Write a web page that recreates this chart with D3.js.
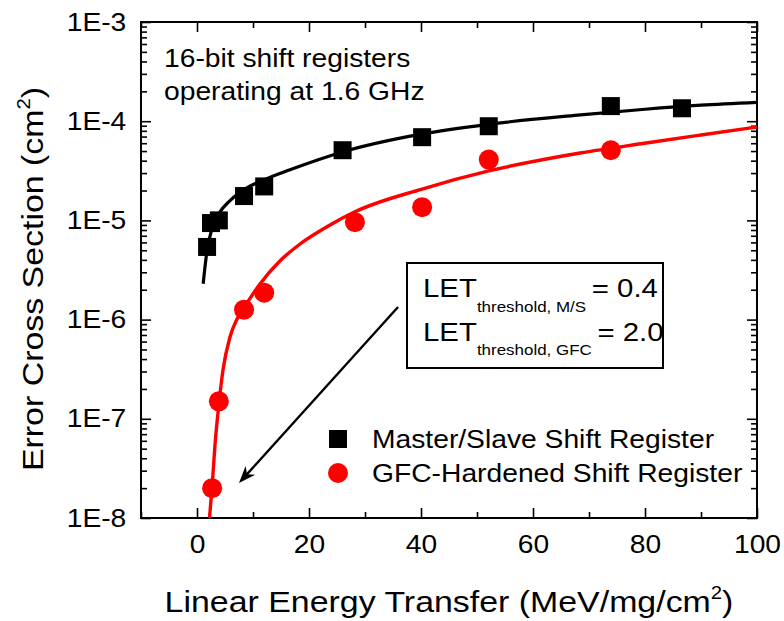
<!DOCTYPE html>
<html>
<head>
<meta charset="utf-8">
<script src="https://cdn.jsdelivr.net/npm/d3@7"></script>
<style>
body { margin: 0; background: #fff; }
text { font-family: Arial, "Liberation Sans", sans-serif; fill: #000; }
</style>
</head>
<body>
<div id="chart"></div>
<script>
// measured points, LET (MeV/mg/cm2) vs cross section (cm2)
let msLet = [1.8, 2.5, 3.9, 8.4, 12.0, 26.0, 40.2, 52.1, 73.9, 86.6];
let msSigma = [5.4e-6, 9.4e-6, 1.0e-5, 1.76e-5, 2.2e-5, 5.1e-5, 6.9e-5, 8.9e-5, 1.42e-4, 1.35e-4];

let gfcLet = [2.7, 3.9, 8.4, 12.0, 28.2, 40.2, 52.1, 73.9];
let gfcSigma = [2.0e-8, 1.5e-7, 1.26e-6, 1.87e-6, 9.6e-6, 1.36e-5, 4.1e-5, 5.1e-5];

// fitted curves
let msFitLet = [1.1, 1.8, 2.7, 3.9, 5.9, 8.4, 12, 16.6, 26, 40, 52, 68, 80, 90, 100];
let msFitSigma = [2.3e-6, 5.0e-6, 8.3e-6, 1.17e-5, 1.58e-5, 2.04e-5, 2.57e-5, 3.24e-5, 4.9e-5, 7.4e-5, 9.3e-5, 1.15e-4, 1.32e-4, 1.45e-4, 1.55e-4];

let gfcFitLet = [2.23, 2.68, 3.21, 3.93, 4.64, 5.89, 7.14, 8.39, 9.46, 11.25, 14.8, 18.4, 23.75, 28.2, 40.2, 52.1, 68.4, 80.2, 90, 100];
let gfcFitSigma = [1.0e-8, 2.0e-8, 5.44e-8, 1.44e-7, 3.1e-7, 6.68e-7, 1.01e-6, 1.31e-6, 1.63e-6, 2.29e-6, 3.9e-6, 5.78e-6, 8.99e-6, 1.22e-5, 2.07e-5, 3.15e-5, 4.78e-5, 6.03e-5, 7.26e-5, 8.75e-5];

let xTicks = [0, 20, 40, 60, 80, 100];
let yTicks = [1e-8, 1e-7, 1e-6, 1e-5, 1e-4, 1e-3];
let yTickLabels = ["1E-8", "1E-7", "1E-6", "1E-5", "1E-4", "1E-3"];

let seriesNames = ["Master/Slave Shift Register", "GFC-Hardened Shift Register"];

// arrow from the threshold box down to low LET
let arrowLet = [35.9, 7.5];
let arrowSigma = [1.34e-6, 2.25e-8];

let margin = {top: 22, left: 141, right: 27, bottom: 103};
let width = 784 - margin.left - margin.right;
let height = 621 - margin.top - margin.bottom;
let sx = 1.13; // text in the original is a little wide

let x = d3.scaleLinear().domain([-10, 100]).range([0, width]);
let y = d3.scaleLog().domain([1e-8, 1e-3]).range([height, 0]);

let svg = d3.select("#chart").append("svg")
    .attr("width", 784)
    .attr("height", 621);

let g = svg.append("g")
    .attr("transform", "translate(" + margin.left + "," + margin.top + ")");

g.append("clipPath").attr("id", "plot-clip")
    .append("rect").attr("width", width).attr("height", height);

function label(parent, px, py, size, anchor, str) {
    return parent.append("text")
        .attr("transform", "translate(" + px + "," + py + ") scale(" + sx + ",1)")
        .attr("text-anchor", anchor)
        .style("font-size", size + "px")
        .text(str);
}

// axes, ticks pointing inward on all four sides
let minorX = d3.range(-10, 101, 10).filter(d => xTicks.indexOf(d) < 0);
let minorY = y.ticks().filter(d => yTicks.indexOf(d) < 0);

g.append("g").attr("transform", "translate(0," + height + ")")
    .call(d3.axisBottom(x).tickValues(xTicks).tickSize(-10).tickPadding(17).tickFormat(d3.format("d")));
g.append("g").attr("transform", "translate(0," + height + ")")
    .call(d3.axisBottom(x).tickValues(minorX).tickSize(-6).tickFormat(""));
g.append("g")
    .call(d3.axisTop(x).tickValues(xTicks).tickSize(-10).tickFormat(""));
g.append("g")
    .call(d3.axisTop(x).tickValues(minorX).tickSize(-6).tickFormat(""));

g.append("g")
    .call(d3.axisLeft(y).tickValues(yTicks).tickSize(-10).tickPadding(13)
        .tickFormat((d, i) => yTickLabels[i]));
g.append("g")
    .call(d3.axisLeft(y).tickValues(minorY).tickSize(-6).tickFormat(""));
g.append("g").attr("transform", "translate(" + width + ",0)")
    .call(d3.axisRight(y).tickValues(yTicks).tickSize(-10).tickFormat(""));
g.append("g").attr("transform", "translate(" + width + ",0)")
    .call(d3.axisRight(y).tickValues(minorY).tickSize(-6).tickFormat(""));

g.selectAll(".domain").remove();
g.selectAll(".tick line").attr("stroke", "#000").attr("stroke-width", 1.6);
g.selectAll(".tick text")
    .style("font-size", "25px")
    .style("font-family", "Arial, 'Liberation Sans', sans-serif")
    .attr("fill", "#000")
    .attr("transform", "scale(" + sx + ",1)");

g.append("rect")
    .attr("width", width)
    .attr("height", height)
    .attr("fill", "none")
    .attr("stroke", "#000")
    .attr("stroke-width", 2);

// fit curves
let line = d3.line()
    .x(d => x(d[0]))
    .y(d => y(d[1]))
    .curve(d3.curveMonotoneX);

let msFit = msFitLet.map((d, i) => [d, msFitSigma[i]]);
let gfcFit = gfcFitLet.map((d, i) => [d, gfcFitSigma[i]]);

g.append("path").datum(msFit)
    .attr("clip-path", "url(#plot-clip)")
    .attr("d", line)
    .attr("fill", "none")
    .attr("stroke", "#000")
    .attr("stroke-width", 3.2);

g.append("path").datum(gfcFit)
    .attr("clip-path", "url(#plot-clip)")
    .attr("d", line)
    .attr("fill", "none")
    .attr("stroke", "#ff0000")
    .attr("stroke-width", 3.4);

// markers
let sq = 18;
g.selectAll(".ms").data(msLet)
    .enter().append("rect")
    .attr("class", "ms")
    .attr("x", d => x(d) - sq / 2)
    .attr("y", (d, i) => y(msSigma[i]) - sq / 2)
    .attr("width", sq)
    .attr("height", sq)
    .attr("fill", "#000");

g.selectAll(".gfc").data(gfcLet)
    .enter().append("circle")
    .attr("class", "gfc")
    .attr("cx", d => x(d))
    .attr("cy", (d, i) => y(gfcSigma[i]))
    .attr("r", 10)
    .attr("fill", "#ff0000");

// arrow
let ax0 = x(arrowLet[0]), ay0 = y(arrowSigma[0]);
let ax1 = x(arrowLet[1]), ay1 = y(arrowSigma[1]);
let ang = Math.atan2(ay1 - ay0, ax1 - ax0);
g.append("line")
    .attr("x1", ax0).attr("y1", ay0)
    .attr("x2", ax1 - 8 * Math.cos(ang)).attr("y2", ay1 - 8 * Math.sin(ang))
    .attr("stroke", "#000")
    .attr("stroke-width", 2.4);
let headLen = 17, headW = 6.5, notch = 12;
let px = -Math.sin(ang), py = Math.cos(ang);
let bx = ax1 - headLen * Math.cos(ang), by = ay1 - headLen * Math.sin(ang);
let nx = ax1 - notch * Math.cos(ang), ny = ay1 - notch * Math.sin(ang);
g.append("path")
    .attr("d", "M" + ax1 + "," + ay1 +
        "L" + (bx + headW * px) + "," + (by + headW * py) +
        "L" + nx + "," + ny +
        "L" + (bx - headW * px) + "," + (by - headW * py) + "Z")
    .attr("fill", "#000");

// threshold box
svg.append("rect")
    .attr("x", 407).attr("y", 263)
    .attr("width", 256).attr("height", 105)
    .attr("fill", "#fff")
    .attr("stroke", "#000")
    .attr("stroke-width", 2);

let t1 = label(svg, 423, 297, 26, "start", "LET");
t1.append("tspan").attr("dy", 15).style("font-size", "15px").text("threshold, M/S");
t1.append("tspan").attr("dy", -15).attr("dx", 5).text("= 0.4");

let t2 = label(svg, 423, 341, 26, "start", "LET");
t2.append("tspan").attr("dy", 14).style("font-size", "15px").text("threshold, GFC");
t2.append("tspan").attr("dy", -14).attr("dx", 5).text("= 2.0");

// note in the corner
label(svg, 164, 67, 25, "start", "16-bit shift registers");
label(svg, 164, 100, 25, "start", "operating at 1.6 GHz");

// legend
svg.append("rect")
    .attr("x", 338 - sq / 2).attr("y", 439 - sq / 2)
    .attr("width", sq).attr("height", sq)
    .attr("fill", "#000");
svg.append("circle")
    .attr("cx", 338).attr("cy", 473).attr("r", 10)
    .attr("fill", "#ff0000");
label(svg, 372, 448, 25, "start", seriesNames[0]);
label(svg, 372, 482, 25, "start", seriesNames[1]);

// axis titles
let xt = label(svg, 449, 612, 30, "middle", "Linear Energy Transfer (MeV/mg/cm");
xt.append("tspan").attr("dy", -13).style("font-size", "18px").text("2");
xt.append("tspan").attr("dy", 13).text(")");

let yt = svg.append("text")
    .attr("transform", "translate(43,279) rotate(-90) scale(" + sx + ",1)")
    .attr("text-anchor", "middle")
    .style("font-size", "30px")
    .text("Error Cross Section (cm");
yt.append("tspan").attr("dy", -13).style("font-size", "18px").text("2");
yt.append("tspan").attr("dy", 13).text(")");
</script>
</body>
</html>
